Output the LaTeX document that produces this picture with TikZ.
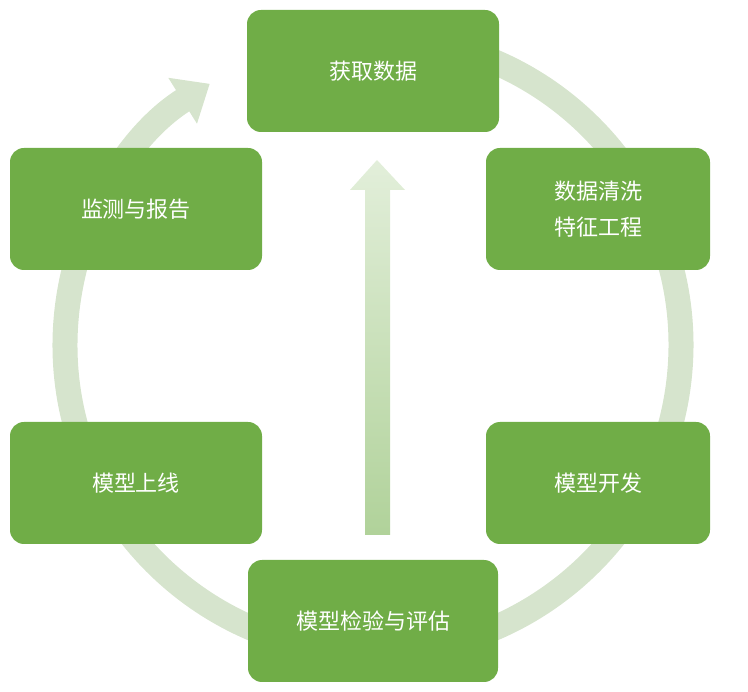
\documentclass[tikz,border=0pt]{standalone}
\usepackage{fontspec}
\newfontfamily\cjk{Noto Sans CJK SC}
\usetikzlibrary{arrows.meta, positioning}
\definecolor{boxgreen}{HTML}{70AD47}
\definecolor{ringgreen}{HTML}{D6E4CD}
\tikzstyle{stage} = [rectangle, rounded corners=14pt, minimum width=252pt, minimum height=122pt, text centered, fill=boxgreen, text=white, font=\cjk\fontsize{22}{36}\selectfont, align=center]
\tikzstyle{ring} = [ringgreen, line width=25pt, -{Triangle[width=52pt, length=32pt]}]

\begin{document}
\begin{tikzpicture}[x=1pt, y=-1pt]
\useasboundingbox (0,0) rectangle (748,692);
\draw[ring] (373,345) ++(-85:308) arc[start angle=-85, end angle=238, radius=308];
\shade[top color=boxgreen!20, bottom color=boxgreen!55]
  (365,535) -- (365,190) -- (350,190) -- (377,160) -- (405,190) -- (390,190) -- (390,535) -- cycle;

\node (data) [stage] at (373,71) {获取数据};
\node (clean) [stage, minimum width=224pt] at (598,209) {数据清洗\\特征工程};
\node (dev) [stage, minimum width=224pt] at (598,483) {模型开发};
\node (eval) [stage, minimum width=250pt] at (373,621) {模型检验与评估};
\node (online) [stage] at (136,483) {模型上线};
\node (monitor) [stage] at (136,209) {监测与报告};
\end{tikzpicture}
\end{document}
